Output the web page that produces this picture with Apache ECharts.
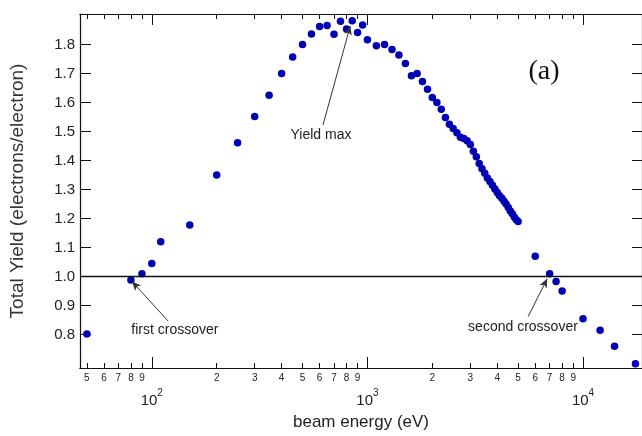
<!DOCTYPE html>
<html><head><meta charset="utf-8">
<script src="https://cdn.jsdelivr.net/npm/echarts@6/dist/echarts.min.js"></script>
<style>html,body{margin:0;padding:0;background:#fff}#c{width:642px;height:436px}</style>
</head><body><div id="c"></div>
<script>
// beam energy (eV)
const energy = [50, 80, 90, 100, 110, 150, 200, 250, 300, 350, 400, 450, 500, 550, 600, 650, 700, 750, 800, 850, 900, 950, 1000,
  1100, 1200, 1300, 1400, 1500, 1600, 1700, 1800, 1900, 2000, 2100, 2200, 2300, 2400, 2500, 2600, 2700, 2800, 2900,
  3000, 3100, 3200, 3300, 3400, 3500, 3600, 3700, 3800, 3900, 4000, 4100, 4200, 4300, 4400, 4500, 4600, 4700, 4800, 4900, 5000,
  6000, 7000, 7500, 8000, 10000, 12000, 14000, 17500];
// total yield (electrons/electron)
const totalYield = [0.802, 0.988, 1.010, 1.045, 1.120, 1.178, 1.350, 1.461, 1.552, 1.625, 1.700, 1.757, 1.800, 1.836, 1.862, 1.865, 1.835, 1.880, 1.853, 1.882, 1.841, 1.867, 1.816,
  1.796, 1.800, 1.783, 1.764, 1.734, 1.692, 1.700, 1.672, 1.646, 1.617, 1.600, 1.577, 1.548, 1.525, 1.510, 1.496, 1.480, 1.476, 1.468,
  1.455, 1.432, 1.413, 1.390, 1.372, 1.356, 1.340, 1.328, 1.315, 1.302, 1.290, 1.279, 1.270, 1.260, 1.250, 1.238, 1.226, 1.217, 1.205, 1.196, 1.190,
  1.070, 1.010, 0.983, 0.950, 0.855, 0.815, 0.760, 0.700];
const yTickValues = [0.8, 0.9, 1.0, 1.1, 1.2, 1.3, 1.4, 1.5, 1.6, 1.7, 1.8];
const minorTickValues = [50, 60, 70, 80, 90, 200, 300, 400, 500, 600, 700, 800, 900, 2000, 3000, 4000, 5000, 6000, 7000, 8000, 9000];
const majorTickValues = [100, 1000, 10000];
const crossoverLevel = 1.0;
const labelTexts = ['Yield max', 'first crossover', 'second crossover', '(a)'];
const labelEnergy = [609, 128, 5266, 6586];
const labelYield = [1.488, 0.814, 0.825, 1.705];
const arrowFromEnergy = [622, 119, 5564];
const arrowFromYield = [1.522, 0.847, 0.862];
const arrowToEnergy = [833, 81, 6819];
const arrowToYield = [1.864, 0.983, 0.993];

const X_MIN = 46.45, X_MAX = 18770, Y_MIN = 0.685, Y_MAX = 1.905;
const FONT = 'Liberation Sans';
const TXT = '#222';

function mkX(opts) {
  return Object.assign({
    type: 'log', min: X_MIN, max: X_MAX, position: 'bottom', offset: 0,
    axisLine: { show: true, onZero: false, lineStyle: { color: '#111', width: 1.2 } },
    splitLine: { show: false }, minorTick: { show: false }, minorSplitLine: { show: false }
  }, opts);
}

const markPointData = labelTexts.map((t, i) => ({
  coord: [labelEnergy[i], labelYield[i]], name: t,
  label: i === 3 ? { fontFamily: 'Liberation Serif', fontSize: 28, color: '#111' } : {}
}));
const markLineData = [
  { yAxis: crossoverLevel, lineStyle: { color: '#111', width: 1.4, type: 'solid' } }
].concat(arrowFromEnergy.map((e, i) => [
  { coord: [e, arrowFromYield[i]], symbol: 'none' },
  { coord: [arrowToEnergy[i], arrowToYield[i]], symbol: 'arrow', symbolSize: [6, 9] }
]));

const chart = echarts.init(document.getElementById('c'), null, { renderer: 'canvas' });
chart.setOption({
  animation: false,
  backgroundColor: '#fff',
  grid: { left: 79, top: 14, right: -6, bottom: 62, containLabel: false },
  xAxis: [
    mkX({ // minor ticks + labels (bottom)
      axisTick: { show: true, inside: true, length: 5, customValues: minorTickValues, lineStyle: { color: '#111' } },
      axisLabel: { show: true, customValues: minorTickValues, margin: 5, fontFamily: FONT, fontSize: 10, color: TXT,
        formatter: v => String(Math.round(v / Math.pow(10, Math.floor(Math.log10(v) + 1e-9)))) },
      name: 'beam energy (eV)', nameLocation: 'middle', nameGap: 46,
      nameTextStyle: { fontFamily: FONT, fontSize: 17, color: TXT }
    }),
    mkX({ // major ticks + labels (bottom)
      axisTick: { show: true, inside: true, length: 11, customValues: majorTickValues, lineStyle: { color: '#111' } },
      axisLabel: { show: true, customValues: majorTickValues, margin: 20, fontFamily: FONT, color: TXT,
        formatter: v => '{b|10}{s|' + Math.round(Math.log10(v)) + '}',
        rich: { b: { fontFamily: FONT, fontSize: 15, color: TXT, lineHeight: 20, verticalAlign: 'bottom' },
                s: { fontFamily: FONT, fontSize: 10, color: TXT, lineHeight: 20, verticalAlign: 'top', padding: [0, 0, 10, 0] } } }
    }),
    mkX({ position: 'top',
      axisTick: { show: true, inside: true, length: 5, customValues: minorTickValues, lineStyle: { color: '#111' } },
      axisLabel: { show: false }
    }),
    mkX({ position: 'top',
      axisTick: { show: true, inside: true, length: 11, customValues: majorTickValues, lineStyle: { color: '#111' } },
      axisLabel: { show: false }
    })
  ],
  yAxis: [
    { type: 'value', min: Y_MIN, max: Y_MAX, position: 'left',
      axisLine: { show: true, onZero: false, lineStyle: { color: '#111', width: 1.2 } },
      axisTick: { show: true, inside: true, length: 11, customValues: yTickValues, lineStyle: { color: '#111' } },
      axisLabel: { show: true, customValues: yTickValues, margin: 5, fontFamily: FONT, fontSize: 15, color: TXT,
        formatter: v => v.toFixed(1) },
      splitLine: { show: false },
      name: 'Total Yield (electrons/electron)', nameLocation: 'middle', nameGap: 53,
      nameTextStyle: { fontFamily: FONT, fontSize: 19, color: '#333' }
    },
    { type: 'value', min: Y_MIN, max: Y_MAX, position: 'right',
      axisLine: { show: true, onZero: false, lineStyle: { color: '#111', width: 1.2 } },
      axisTick: { show: true, inside: true, length: 10, customValues: yTickValues, lineStyle: { color: '#111' } },
      axisLabel: { show: false }, splitLine: { show: false }
    }
  ],
  series: [{
    type: 'scatter', xAxisIndex: 0, yAxisIndex: 0,
    data: energy.map((e, i) => [e, totalYield[i]]),
    symbol: 'circle', symbolSize: 7.5,
    itemStyle: { color: '#0000b4', opacity: 1 },
    clip: false, silent: true,
    markLine: { silent: true, animation: false, symbol: ['none', 'none'], label: { show: false },
      lineStyle: { color: '#333', width: 1, type: 'solid' }, emphasis: { disabled: true },
      data: markLineData },
    markPoint: { silent: true, animation: false, symbol: 'rect', symbolSize: 0,
      label: { show: true, position: 'inside', formatter: '{b}', fontFamily: FONT, fontSize: 14, color: TXT },
      data: markPointData }
  }]
});
</script></body></html>
